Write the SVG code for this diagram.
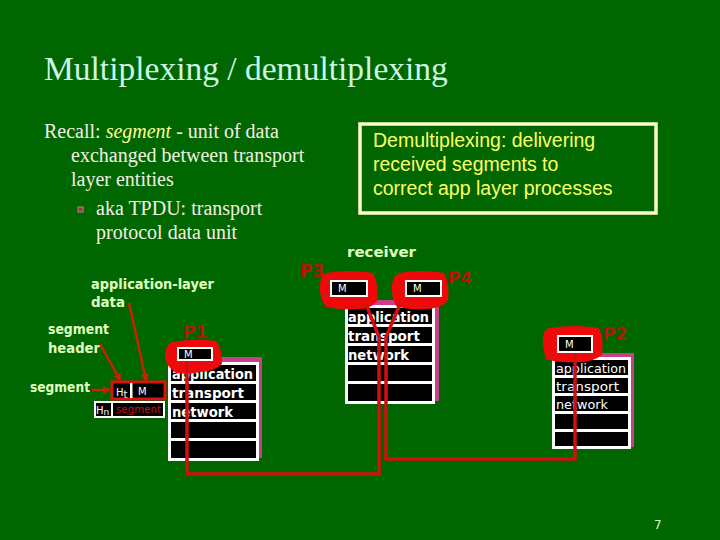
<svg xmlns="http://www.w3.org/2000/svg" width="720" height="540" viewBox="0 0 720 540">
<defs>
<style>
.title{font-family:"Liberation Serif",serif;font-size:33.5px;fill:#ccf5e4}
.body{font-family:"Liberation Serif",serif;font-size:20px;fill:#f2f0e4}
.demux{font-family:"Liberation Sans",Arial,sans-serif;font-size:19.5px;fill:#ffff66}
.lbl{font-family:"DejaVu Sans",sans-serif;font-size:14px;font-weight:bold;fill:#e0ffc0}
.stk{font-family:"DejaVu Sans",sans-serif;font-size:14px;font-weight:bold;fill:#ffffff}
.stks{font-family:"DejaVu Sans",sans-serif;font-size:12.5px;fill:#ffffff}
.pl{font-family:"DejaVu Sans",sans-serif;font-size:17px;font-weight:bold;fill:#b81408}
.m{font-family:"DejaVu Sans",sans-serif;font-size:10px;fill:#ffffff}
.row{fill:#000000}
.frame{fill:#ffffff}
.shadow{fill:#c8408c}
.blob{fill:#ee0a0a}
.wire{fill:none;stroke:#d01010;stroke-width:3.5}
.arr{fill:none;stroke:#cc2200;stroke-width:2.5}
</style>
<marker id="ah" markerWidth="8" markerHeight="8" refX="6" refY="4" orient="auto" markerUnits="userSpaceOnUse">
<path d="M0,0 L8,4 L0,8 z" fill="#cc2200"/>
</marker>
</defs>
<rect width="720" height="540" fill="#006600"/>

<text class="title" x="44" y="80">Multiplexing / demultiplexing</text>

<g id="recall">
<text class="body" x="44" y="138">Recall: <tspan font-style="italic" fill="#ffff99">segment</tspan> - unit of data</text>
<text class="body" x="71" y="162">exchanged between transport</text>
<text class="body" x="71" y="186">layer entities</text>
<rect x="78" y="207" width="5" height="5" fill="#804040" stroke="#c08080" stroke-width="1"/>
<text class="body" x="96" y="215">aka TPDU: transport</text>
<text class="body" x="96" y="239">protocol data unit</text>
</g>

<g id="demux-box">
<rect x="360" y="124" width="296" height="89" fill="none" stroke="#ffffcc" stroke-width="3.5"/>
<text class="demux" x="373" y="147">Demultiplexing: delivering</text>
<text class="demux" x="373" y="171">received segments to</text>
<text class="demux" x="373" y="195">correct app layer processes</text>
</g>

<g id="labels">
<text class="lbl" x="91" y="289" textLength="123" lengthAdjust="spacingAndGlyphs">application-layer</text>
<text class="lbl" x="91" y="307" textLength="34" lengthAdjust="spacingAndGlyphs">data</text>
<text class="lbl" x="48" y="334" textLength="61" lengthAdjust="spacingAndGlyphs">segment</text>
<text class="lbl" x="48" y="353" textLength="52" lengthAdjust="spacingAndGlyphs">header</text>
<text class="lbl" x="30" y="392" textLength="60" lengthAdjust="spacingAndGlyphs">segment</text>
<text class="lbl" x="347" y="257" textLength="69" lengthAdjust="spacingAndGlyphs">receiver</text>
</g>

<g id="segment-boxes">
<rect x="112" y="382" width="53" height="17" fill="#000" stroke="#dd1111" stroke-width="3"/>
<text class="m" x="116" y="396" font-size="13">H<tspan font-size="10" dy="2">t</tspan></text>
<rect x="130" y="383" width="2.5" height="15" fill="#fff"/>
<text class="m" x="138" y="395">M</text>
<rect x="94" y="401" width="71" height="17" fill="#fff"/>
<rect x="96" y="403" width="15" height="13" fill="#000"/>
<text class="m" x="96" y="414" font-size="12">H<tspan font-size="9" dy="1">n</tspan></text>
<rect x="113" y="403" width="50" height="13" fill="#000"/>
<text x="116" y="413" font-family="DejaVu Sans,sans-serif" font-size="10" fill="#cc1111" textLength="45" lengthAdjust="spacingAndGlyphs">segment</text>
</g>

<g id="label-arrows">
<line class="arr" x1="92" y1="390" x2="109" y2="390" marker-end="url(#ah)"/>
<line class="arr" x1="100" y1="344" x2="120" y2="380" marker-end="url(#ah)"/>
<line class="arr" x1="129" y1="303" x2="146" y2="380" marker-end="url(#ah)"/>
</g>

<g id="stack-p1">
<rect class="shadow" x="172" y="357" width="90" height="101"/>
<rect class="frame" x="168" y="362" width="91" height="99"/>
<rect class="row" x="171" y="365" width="85" height="16"/>
<rect class="row" x="171" y="384" width="85" height="16"/>
<rect class="row" x="171" y="403" width="85" height="16"/>
<rect class="row" x="171" y="422" width="85" height="16"/>
<rect class="row" x="171" y="441" width="85" height="17"/>
<text class="stk" x="172" y="379" textLength="81" lengthAdjust="spacingAndGlyphs">application</text>
<text class="stk" x="172" y="398" textLength="72" lengthAdjust="spacingAndGlyphs">transport</text>
<text class="stk" x="172" y="417" textLength="61" lengthAdjust="spacingAndGlyphs">network</text>
</g>

<g id="stack-receiver">
<rect class="shadow" x="349" y="300" width="90" height="101"/>
<rect class="frame" x="345" y="305" width="90" height="99"/>
<rect class="row" x="348" y="308" width="84" height="16"/>
<rect class="row" x="348" y="327" width="84" height="16"/>
<rect class="row" x="348" y="346" width="84" height="16"/>
<rect class="row" x="348" y="365" width="84" height="16"/>
<rect class="row" x="348" y="384" width="84" height="17"/>
<text class="stk" x="348" y="322" textLength="81" lengthAdjust="spacingAndGlyphs">application</text>
<text class="stk" x="348" y="341" textLength="72" lengthAdjust="spacingAndGlyphs">transport</text>
<text class="stk" x="348" y="360" textLength="61" lengthAdjust="spacingAndGlyphs">network</text>
</g>

<g id="stack-p2">
<rect class="shadow" x="556" y="353" width="78" height="94"/>
<rect class="frame" x="552" y="357" width="79" height="92"/>
<rect class="row" x="555" y="360" width="73" height="15"/>
<rect class="row" x="555" y="378" width="73" height="15"/>
<rect class="row" x="555" y="396" width="73" height="15"/>
<rect class="row" x="555" y="414" width="73" height="15"/>
<rect class="row" x="555" y="432" width="73" height="14"/>
<text class="stks" x="556" y="373" textLength="70" lengthAdjust="spacingAndGlyphs">application</text>
<text class="stks" x="556" y="391" textLength="63" lengthAdjust="spacingAndGlyphs">transport</text>
<text class="stks" x="556" y="409" textLength="52" lengthAdjust="spacingAndGlyphs">network</text>
</g>

<g id="p1">
<path class="blob" d="M172,342 Q195,338 216,341 Q223,350 222,364 Q213,372 200,372 Q190,375 176,373 Q165,366 165,354 Q166,344 172,342 z"/>
<rect x="177" y="347" width="36" height="14" fill="#fff"/>
<rect x="179" y="349" width="32" height="10" fill="#000"/>
<text class="m" x="184" y="358">M</text>
<text class="pl" x="183" y="338">P1</text>
</g>

<g id="p3">
<path class="blob" d="M326,273 Q350,269 373,273 Q379,284 377,301 Q370,310 357,309 Q340,310 326,307 Q319,298 320,286 Q320,276 326,273 z"/>
<rect x="330" y="280" width="38" height="17" fill="#fff"/>
<rect x="332" y="282" width="34" height="13" fill="#000"/>
<text class="m" x="338" y="292">M</text>
<text class="pl" x="300" y="277">P3</text>
</g>

<g id="p4">
<path class="blob" d="M399,273 Q422,269 444,273 Q450,284 448,301 Q440,309 425,309 Q408,310 396,306 Q391,296 392,285 Q393,276 399,273 z"/>
<rect x="405" y="280" width="37" height="17" fill="#fff"/>
<rect x="407" y="282" width="33" height="13" fill="#000"/>
<text class="m" x="413" y="292">M</text>
<text class="pl" x="448" y="284">P4</text>
</g>

<g id="p2">
<path class="blob" d="M549,328 Q575,324 599,328 Q604,338 602,355 Q592,363 575,362 Q558,363 546,359 Q542,347 543,337 Q544,330 549,328 z"/>
<rect x="557" y="335" width="36" height="18" fill="#fff"/>
<rect x="559" y="337" width="32" height="14" fill="#000"/>
<text class="m" x="565" y="348">M</text>
<text class="pl" x="603" y="340">P2</text>
</g>

<g id="connectors">
<polyline class="wire" points="187,361 187,474 379,474 379,337 366,304"/>
<polyline class="wire" points="400,304 386,337 386,459 575,459 575,353"/>
</g>

<text x="654" y="529" font-family="DejaVu Sans,sans-serif" font-size="12" fill="#ccffcc">7</text>
</svg>
